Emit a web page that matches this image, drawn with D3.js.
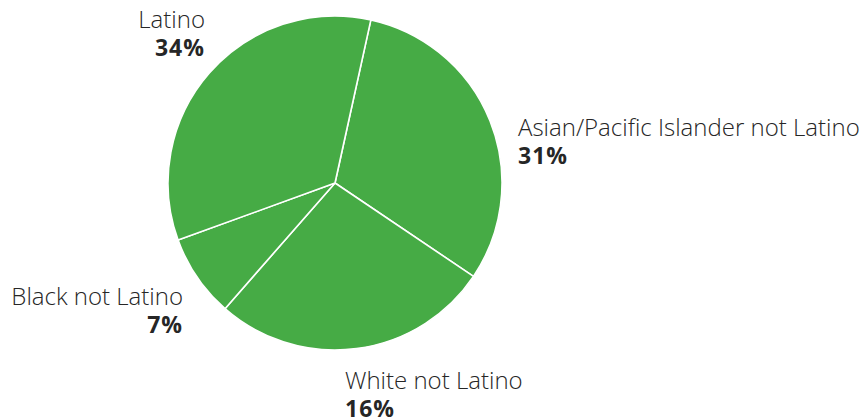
<!DOCTYPE html>
<html><head><meta charset="utf-8">
<script src="https://cdn.jsdelivr.net/npm/d3@7"></script>
<style>
html,body{margin:0;padding:0;background:#fff;}
svg{display:block;}
text{font-family:"Open Sans","Noto Sans",sans-serif;fill:#262626;}
</style></head>
<body><svg id="c" width="864" height="420"></svg>
<script>
// Data
const categories = ["Asian/Pacific Islander not Latino", "White not Latino", "Black not Latino", "Latino"];
const sliceValues = [31, 27, 8, 34];
const percentLabels = ["31%", "16%", "7%", "34%"];

const svg = d3.select("#c");
const cx = 335, cy = 183, r = 167;
const startDeg = 12.4;

const pie = d3.pie().sort(null).value(d => d.v)
  .startAngle(startDeg * Math.PI / 180)
  .endAngle((startDeg + 360) * Math.PI / 180);
const rows = categories.map((c, i) => ({c, v: sliceValues[i], p: percentLabels[i]}));
const arcs = pie(rows);
const arc = d3.arc().innerRadius(0).outerRadius(r);

const g = svg.append("g").attr("transform", `translate(${cx},${cy})`);
g.selectAll("path").data(arcs).join("path")
  .attr("d", arc)
  .attr("fill", "#46ab45")
  .attr("stroke", "#fff")
  .attr("stroke-width", 1.6)
  .attr("stroke-linejoin", "round");

// label layout (positions of label blocks)
const layout = {
  "Asian/Pacific Islander not Latino": {x: 518, y: 136, anchor: "start"},
  "White not Latino": {x: 345, y: 389, anchor: "start"},
  "Black not Latino": {x: 183, y: 305, anchor: "end"},
  "Latino": {x: 205, y: 28, anchor: "end"}
};
const lab = svg.selectAll("g.lab").data(rows).join("g").attr("class", "lab");
lab.append("text")
  .attr("x", d => layout[d.c].x).attr("y", d => layout[d.c].y)
  .attr("text-anchor", d => layout[d.c].anchor)
  .attr("font-size", 24).attr("font-weight", 300)
  .text(d => d.c);
lab.append("text")
  .attr("x", d => layout[d.c].x).attr("y", d => layout[d.c].y + 27.5)
  .attr("text-anchor", d => layout[d.c].anchor)
  .attr("font-size", 23).attr("font-weight", 700)
  .attr("letter-spacing", 1)
  .text(d => d.p);
</script></body></html>
